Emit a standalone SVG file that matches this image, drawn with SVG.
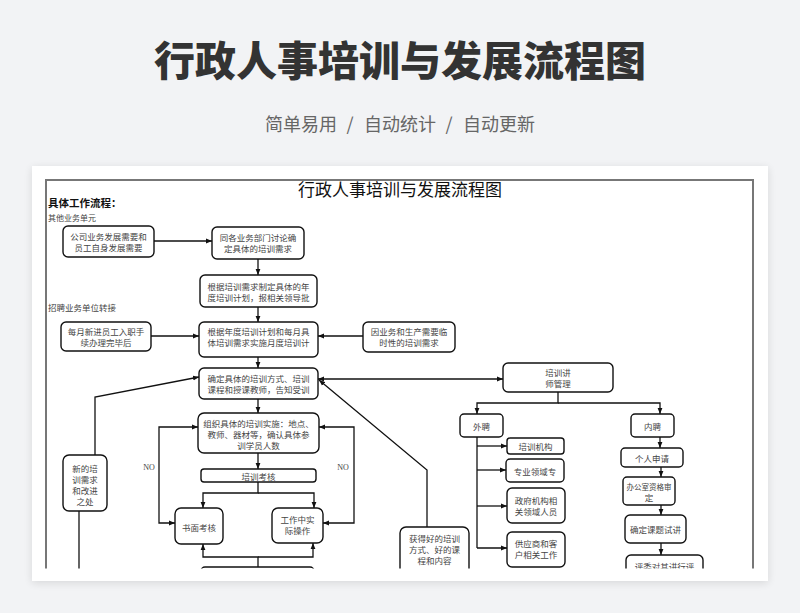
<svg xmlns="http://www.w3.org/2000/svg" width="800" height="613" viewBox="0 0 800 613">
<defs>
<style>
.hd{font-family:"Noto Sans CJK SC","Noto Sans",sans-serif}
.sub{font-family:"Noto Sans CJK SC","Noto Sans",sans-serif;font-size:18px;fill:#666}
.n rect{fill:#fff;stroke:#111;stroke-width:1.4}
.n text{font-family:"Noto Sans CJK SC",sans-serif;font-size:8.5px;fill:#444;text-anchor:middle;dominant-baseline:central}
.c path{fill:none;stroke:#111;stroke-width:1.3}
.lb{font-family:"Liberation Serif",serif;font-size:8px;fill:#444;text-anchor:middle}
</style>
<marker id="a" viewBox="0 0 10 10" refX="10" refY="5" markerUnits="userSpaceOnUse" markerWidth="6" markerHeight="6" orient="auto-start-reverse"><path d="M0,1 L10,5 L0,9 z" fill="#111"/></marker>
<filter id="sh" x="-5%" y="-5%" width="110%" height="115%"><feGaussianBlur in="SourceAlpha" stdDeviation="4"/><feOffset dy="2"/><feComponentTransfer><feFuncA type="linear" slope="0.12"/></feComponentTransfer><feMerge><feMergeNode/><feMergeNode in="SourceGraphic"/></feMerge></filter>
<clipPath id="clip"><rect x="0" y="0" width="800" height="568.5"/></clipPath>
</defs>
<rect width="800" height="613" fill="#f2f3f5"/>
<text class="hd" x="400" y="76" font-size="41" font-weight="900" fill="#333" text-anchor="middle">行政人事培训与发展流程图</text>
<text class="sub" x="265" y="131">简单易用</text>
<text class="sub" x="350" y="131" text-anchor="middle">/</text>
<text class="sub" x="364" y="131">自动统计</text>
<text class="sub" x="449" y="131" text-anchor="middle">/</text>
<text class="sub" x="463" y="131">自动更新</text>
<rect x="32" y="166" width="736" height="415" fill="#fff" filter="url(#sh)"/>
<g clip-path="url(#clip)">
<path d="M46,570 V180 H753 V570" fill="none" stroke="#777" stroke-width="2"/>
<text x="400" y="196" font-family="Noto Sans CJK SC,sans-serif" font-size="17" fill="#111" text-anchor="middle">行政人事培训与发展流程图</text>
<text x="48" y="207" font-family="Noto Sans CJK SC,sans-serif" font-size="10.5" font-weight="bold" fill="#111">具体工作流程：</text>
<text x="48" y="221" font-family="Noto Sans CJK SC,sans-serif" font-size="8" fill="#444">其他业务单元</text>
<text x="48" y="311" font-family="Noto Sans CJK SC,sans-serif" font-size="8.5" fill="#444">招聘业务单位转接</text>
<text class="lb" x="149" y="470">NO</text>
<text class="lb" x="343" y="470">NO</text>

<g class="c" id="connectors">
<path d="M154,241 H212" marker-end="url(#a)"/>
<path d="M258,259 V275" marker-end="url(#a)"/>
<path d="M258,307 V322" marker-end="url(#a)"/>
<path d="M151,336 H199" marker-end="url(#a)"/>
<path d="M363,336 H318" marker-end="url(#a)"/>
<path d="M258,357 V368" marker-end="url(#a)"/>
<path d="M95,455 V397 L199,377" marker-end="url(#a)"/>
<path d="M318,379 H503" marker-start="url(#a)" marker-end="url(#a)"/>
<path d="M427,527 V470 L319,380" marker-end="url(#a)"/>
<path d="M258,399 V413" marker-end="url(#a)"/>
<path d="M258,453 V469" marker-end="url(#a)"/>
<path d="M258,482 V493 H203 V508" marker-end="url(#a)"/>
<path d="M258,493 H314 V508" marker-end="url(#a)"/>
<path d="M175,523 H159 V427 H198" marker-start="url(#a)" marker-end="url(#a)"/>
<path d="M323,523 H354 V427 H319" marker-start="url(#a)" marker-end="url(#a)"/>
<path d="M258,567 V557 H203 V544" marker-end="url(#a)"/>
<path d="M258,557 H313 V543" marker-end="url(#a)"/>
<path d="M79,511 V572"/>
<path d="M558,392 V403 H477 V414" marker-end="url(#a)"/>
<path d="M558,403 H660 V414" marker-end="url(#a)"/>
<path d="M477,437 V548"/>
<path d="M477,446 H507" marker-end="url(#a)"/>
<path d="M477,470 H506" marker-end="url(#a)"/>
<path d="M477,506 H507" marker-end="url(#a)"/>
<path d="M477,548 H507" marker-end="url(#a)"/>
<path d="M660,437 V448" marker-end="url(#a)"/>
<path d="M661,467 V477" marker-end="url(#a)"/>
<path d="M661,505 V515" marker-end="url(#a)"/>
<path d="M661,543 V555" marker-end="url(#a)"/>
</g>

<g class="n" id="n-gongsi"><rect x="63" y="226" width="91" height="31" rx="5"/><text x="108.5" y="236">公司业务发展需要和</text><text x="108.5" y="247">员工自身发展需要</text></g>
<g class="n" id="n-taolun"><rect x="212" y="227" width="92" height="32" rx="5"/><text x="258" y="237">同各业务部门讨论确</text><text x="258" y="248">定具体的培训需求</text></g>
<g class="n" id="n-niandu"><rect x="200" y="275" width="117" height="32" rx="5"/><text x="258.5" y="286">根据培训需求制定具体的年</text><text x="258.5" y="297">度培训计划，报相关领导批</text></g>
<g class="n" id="n-xinjin"><rect x="61" y="322" width="90" height="29" rx="5"/><text x="106" y="331">每月新进员工入职手</text><text x="106" y="342">续办理完毕后</text></g>
<g class="n" id="n-yuedu"><rect x="199" y="322" width="119" height="35" rx="5"/><text x="258.5" y="331">根据年度培训计划和每月具</text><text x="258.5" y="342">体培训需求实施月度培训计</text></g>
<g class="n" id="n-linshi"><rect x="363" y="322" width="92" height="30" rx="5"/><text x="409" y="331">因业务和生产需要临</text><text x="409" y="342">时性的培训需求</text></g>
<g class="n" id="n-fangshi"><rect x="199" y="368" width="119" height="31" rx="5"/><text x="258.5" y="378">确定具体的培训方式、培训</text><text x="258.5" y="389">课程和授课教师，告知受训</text></g>
<g class="n" id="n-shishi"><rect x="198" y="413" width="121" height="40" rx="6"/><text x="258.5" y="423">组织具体的培训实施：地点、</text><text x="258.5" y="434">教师、器材等，确认具体参</text><text x="258.5" y="445">训学员人数</text></g>
<g class="n" id="n-kaohe"><rect x="201" y="469" width="115" height="13" rx="3"/><text x="258.5" y="476">培训考核</text></g>
<g class="n" id="n-shumian"><rect x="175" y="508" width="48" height="36" rx="6"/><text x="199" y="527">书面考核</text></g>
<g class="n" id="n-caozuo"><rect x="272" y="508" width="51" height="35" rx="6"/><text x="297.5" y="519">工作中实</text><text x="297.5" y="530">际操作</text></g>
<g class="n" id="n-next"><rect x="201" y="567" width="113" height="20" rx="4"/></g>
<g class="n" id="n-xinde"><rect x="63" y="455" width="44" height="56" rx="6"/><text x="85" y="468">新的培</text><text x="85" y="479">训需求</text><text x="85" y="490">和改进</text><text x="85" y="501">之处</text></g>
<g class="n" id="n-huode"><rect x="400" y="527" width="69" height="60" rx="6"/><text x="434.5" y="538">获得好的培训</text><text x="434.5" y="549">方式、好的课</text><text x="434.5" y="560">程和内容</text></g>
<g class="n" id="n-jiangshi"><rect x="503" y="363" width="110" height="29" rx="5"/><text x="558" y="372">培训讲</text><text x="558" y="383">师管理</text></g>
<g class="n" id="n-waipin"><rect x="460" y="414" width="43" height="23" rx="4"/><text x="481.5" y="426">外聘</text></g>
<g class="n" id="n-neipin"><rect x="631" y="414" width="43" height="23" rx="4"/><text x="652.5" y="426">内聘</text></g>
<g class="n" id="n-jigou"><rect x="507" y="438" width="57" height="16" rx="3"/><text x="535.5" y="446">培训机构</text></g>
<g class="n" id="n-zhuanye"><rect x="506" y="459" width="58" height="23" rx="4"/><text x="535" y="471">专业领域专</text></g>
<g class="n" id="n-zhengfu"><rect x="507" y="488" width="58" height="35" rx="5"/><text x="536" y="500">政府机构相</text><text x="536" y="511">关领域人员</text></g>
<g class="n" id="n-gongying"><rect x="507" y="532" width="58" height="35" rx="5"/><text x="536" y="543">供应商和客</text><text x="536" y="554">户相关工作</text></g>
<g class="n" id="n-shenqing"><rect x="621" y="448" width="62" height="19" rx="4"/><text x="652" y="457.5">个人申请</text></g>
<g class="n" id="n-shending"><rect x="623" y="477" width="52" height="28" rx="4"/><text x="649" y="486" style="font-size:7.5px">办公室资格审</text><text x="649" y="497">定</text></g>
<g class="n" id="n-shijiang"><rect x="625" y="515" width="61" height="28" rx="5"/><text x="655.5" y="529">确定课题试讲</text></g>
<g class="n" id="n-pingwei"><rect x="626" y="555" width="77" height="30" rx="5"/><text x="664.5" y="566">评委对其讲行评</text></g>
</g>
</svg>
